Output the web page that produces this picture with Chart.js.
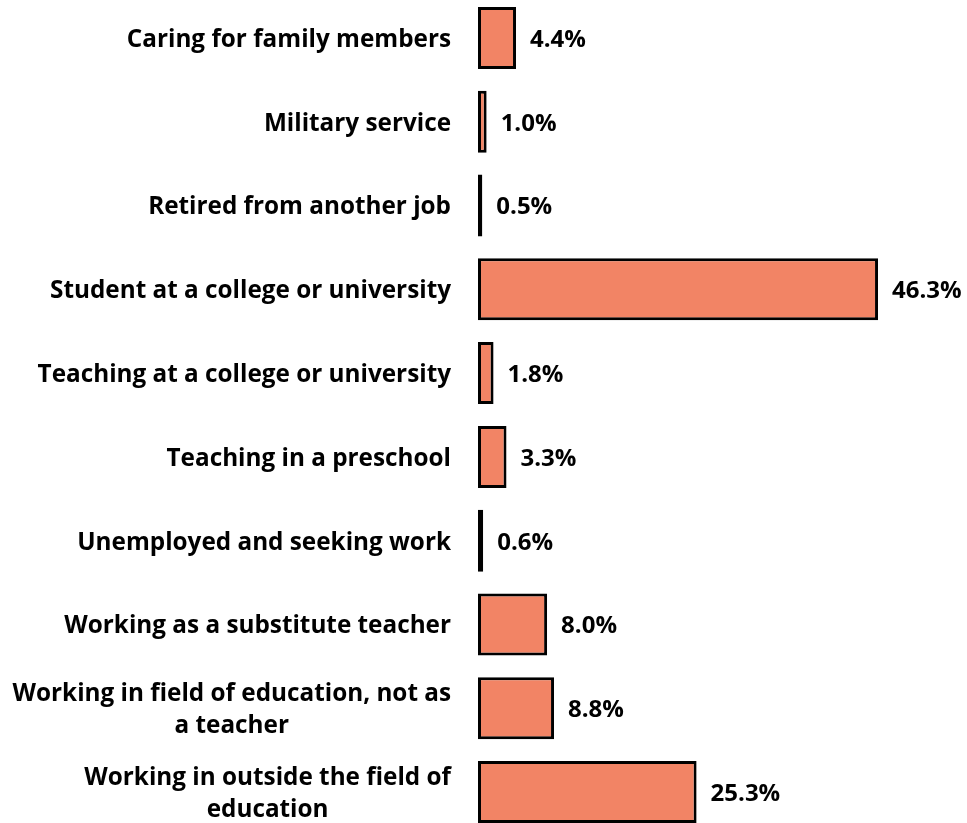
<!DOCTYPE html>
<html>
<head>
<meta charset="utf-8">
<script src="https://cdn.jsdelivr.net/npm/chart.js@4"></script>
<style>
  html, body { margin: 0; padding: 0; background: #fff; overflow: hidden; }
  #wrap { position: absolute; left: 0; top: -4px; width: 967px; height: 838px; }
</style>
</head>
<body>
<div id="wrap"><canvas id="chart"></canvas></div>
<script>
// categories (multi-line ones split into arrays)
const categories = [
  'Caring for family members',
  'Military service',
  'Retired from another job',
  'Student at a college or university',
  'Teaching at a college or university',
  'Teaching in a preschool',
  'Unemployed and seeking work',
  'Working as a substitute teacher',
  ['Working in field of education, not as', 'a teacher'],
  ['Working in outside the field of', 'education']
];
const percentages = [4.4, 1.0, 0.5, 46.3, 1.8, 3.3, 0.6, 8.0, 8.8, 25.3];

const FONT = '"Open Sans", sans-serif';

// draws the category labels (wrapped lines centred on each other) and the value labels
const labelPlugin = {
  id: 'labels',
  afterDatasetsDraw(chart) {
    const ctx = chart.ctx;
    const meta = chart.getDatasetMeta(0);
    const yScale = chart.scales.y;
    ctx.save();
    ctx.fillStyle = '#000';
    ctx.textBaseline = 'middle';
    ctx.font = 'bold 24.3px ' + FONT;
    const rightEdge = chart.chartArea.left - 27;
    categories.forEach((lab, i) => {
      const lines = Array.isArray(lab) ? lab : [lab];
      const yc = yScale.getPixelForValue(i) + 2;
      const lh = 32;
      const maxW = Math.max(...lines.map(l => ctx.measureText(l).width));
      const cx = rightEdge - maxW / 2;
      ctx.textAlign = 'center';
      lines.forEach((l, k) => {
        ctx.fillText(l, cx, yc + (k - (lines.length - 1) / 2) * lh);
      });
    });
    ctx.font = 'bold 24px ' + FONT;
    ctx.textAlign = 'left';
    meta.data.forEach((bar, i) => {
      ctx.fillText(percentages[i].toFixed(1) + '%', bar.x + 14, bar.y + 2);
    });
    ctx.restore();
  }
};

new Chart(document.getElementById('chart'), {
  type: 'bar',
  data: {
    labels: categories,
    datasets: [{
      data: percentages,
      backgroundColor: '#F28465',
      borderColor: '#000',
      borderWidth: 3,
      borderSkipped: false,
      barPercentage: 0.74,
      categoryPercentage: 1
    }]
  },
  options: {
    indexAxis: 'y',
    responsive: true,
    maintainAspectRatio: false,
    animation: false,
    layout: { padding: { top: 0, bottom: 0, left: 0, right: 57 } },
    plugins: { legend: { display: false }, tooltip: { enabled: false } },
    scales: {
      x: { display: false, min: 0, max: 50 },
      y: {
        ticks: { display: false },
        grid: { display: false },
        border: { display: false },
        afterFit: s => { s.width = 478; }
      }
    }
  },
  plugins: [labelPlugin]
});
</script>
</body>
</html>
